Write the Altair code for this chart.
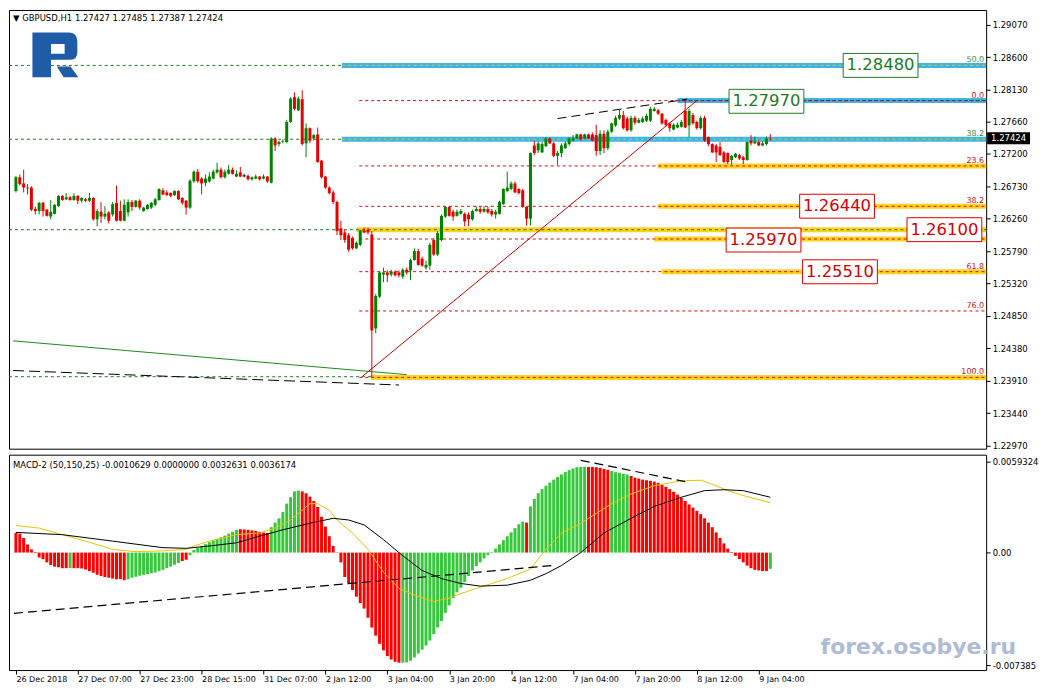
import altair as alt
import pandas as pd
import numpy as np

FONT = "DejaVu Sans"
W, H1, H2 = 980, 440, 216

# ---------------- price data (hourly bars, index 0..195) ----------------
opens = [
    1.2666, 1.2686, 1.2677, 1.2671, 1.2671, 1.2640, 1.2637, 1.2649, 1.2639, 1.2629,
    1.2633, 1.2644, 1.2659, 1.2654, 1.2657, 1.2653, 1.2659, 1.2652, 1.2654, 1.2652,
    1.2656, 1.2625, 1.2636, 1.2629, 1.2635, 1.2632, 1.2649, 1.2637, 1.2623, 1.2635,
    1.2650, 1.2643, 1.2652, 1.2637, 1.2640, 1.2642, 1.2646, 1.2653, 1.2667, 1.2664,
    1.2663, 1.2660, 1.2666, 1.2656, 1.2652, 1.2642, 1.2680, 1.2694, 1.2684, 1.2678,
    1.2680, 1.2684, 1.2693, 1.2697, 1.2686, 1.2691, 1.2697, 1.2687, 1.2693, 1.2688,
    1.2688, 1.2683, 1.2684, 1.2687, 1.2684, 1.2687, 1.2678, 1.2742, 1.2734, 1.2737,
    1.2737, 1.2766, 1.2802, 1.2783, 1.2799, 1.2735, 1.2757, 1.2742, 1.2748, 1.2710,
    1.2687, 1.2671, 1.2664, 1.2650, 1.2612, 1.2606, 1.2602, 1.2598, 1.2583, 1.2588,
    1.2609, 1.2610, 1.2603, 1.2467, 1.2513, 1.2545, 1.2548, 1.2545, 1.2549, 1.2548,
    1.2542, 1.2552, 1.2551, 1.2566, 1.2579, 1.2568, 1.2555, 1.2558, 1.2595, 1.2574,
    1.2595, 1.2629, 1.2643, 1.2636, 1.2630, 1.2633, 1.2633, 1.2632, 1.2625, 1.2637,
    1.2640, 1.2636, 1.2640, 1.2637, 1.2632, 1.2633, 1.2647, 1.2666, 1.2669, 1.2677,
    1.2669, 1.2667, 1.2643, 1.2626, 1.2732, 1.2725, 1.2722, 1.2731, 1.2742, 1.2735,
    1.2717, 1.2721, 1.2728, 1.2734, 1.2739, 1.2742, 1.2748, 1.2742, 1.2748, 1.2748,
    1.2747, 1.2724, 1.2749, 1.2728, 1.2752, 1.2761, 1.2771, 1.2776, 1.2771, 1.2754,
    1.2772, 1.2765, 1.2766, 1.2768, 1.2768, 1.2782, 1.2783, 1.2778, 1.2769, 1.2764,
    1.2755, 1.2758, 1.2759, 1.2782, 1.2761, 1.2776, 1.2766, 1.2757, 1.2772, 1.2744,
    1.2734, 1.2732, 1.2730, 1.2722, 1.2721, 1.2711, 1.2715, 1.2718, 1.2715, 1.2711,
    1.2739, 1.2735, 1.2737, 1.2732, 1.2734, 1.27427,
]
highs = [
    1.2688, 1.2690, 1.2697, 1.2676, 1.2673, 1.2643, 1.2650, 1.2650, 1.2640, 1.2653,
    1.2647, 1.2660, 1.2660, 1.2663, 1.2659, 1.2663, 1.2660, 1.2657, 1.2656, 1.2663,
    1.2657, 1.2640, 1.2650, 1.2644, 1.2637, 1.2650, 1.2674, 1.2652, 1.2654, 1.2654,
    1.2653, 1.2653, 1.2654, 1.2643, 1.2647, 1.2650, 1.2656, 1.2670, 1.2670, 1.2667,
    1.2664, 1.2667, 1.2667, 1.2657, 1.2653, 1.2683, 1.2696, 1.2698, 1.2686, 1.2690,
    1.2693, 1.2697, 1.2707, 1.2700, 1.2697, 1.2704, 1.2700, 1.2696, 1.2701, 1.2691,
    1.2690, 1.2687, 1.2690, 1.2688, 1.2690, 1.2688, 1.2744, 1.2744, 1.2739, 1.2741,
    1.2769, 1.2802, 1.2809, 1.2803, 1.2812, 1.2764, 1.2758, 1.2749, 1.2758, 1.2711,
    1.2688, 1.2673, 1.2667, 1.2652, 1.2623, 1.2610, 1.2605, 1.2600, 1.2593, 1.2610,
    1.2613, 1.2613, 1.2608, 1.2517, 1.2549, 1.2555, 1.2551, 1.2552, 1.2551, 1.2551,
    1.2554, 1.2555, 1.2568, 1.2583, 1.2582, 1.2571, 1.2565, 1.2591, 1.2598, 1.2608,
    1.2632, 1.2644, 1.2644, 1.2639, 1.2639, 1.2640, 1.2635, 1.2635, 1.2639, 1.2644,
    1.2643, 1.2644, 1.2643, 1.2640, 1.2639, 1.2652, 1.2670, 1.2694, 1.2680, 1.2680,
    1.2670, 1.2669, 1.2644, 1.2722, 1.2739, 1.2738, 1.2737, 1.2744, 1.2744, 1.2737,
    1.2724, 1.2735, 1.2738, 1.2744, 1.2747, 1.2749, 1.2749, 1.2749, 1.2749, 1.2751,
    1.2762, 1.2754, 1.2754, 1.2755, 1.2765, 1.2775, 1.2785, 1.2782, 1.2774, 1.2775,
    1.2775, 1.2772, 1.2774, 1.2778, 1.2788, 1.2788, 1.2785, 1.2779, 1.2771, 1.2765,
    1.2764, 1.2765, 1.2769, 1.2797, 1.2785, 1.2779, 1.2768, 1.2775, 1.2775, 1.2745,
    1.2735, 1.2734, 1.2737, 1.2724, 1.2722, 1.2718, 1.2721, 1.2720, 1.2717, 1.2738,
    1.2747, 1.2745, 1.2739, 1.2738, 1.2745, 1.27485,
]
lows = [
    1.2664, 1.2674, 1.2664, 1.2661, 1.2637, 1.2632, 1.2632, 1.2629, 1.2629, 1.2625,
    1.2632, 1.2643, 1.2652, 1.2653, 1.2652, 1.2652, 1.2647, 1.2649, 1.2650, 1.2650,
    1.2623, 1.2615, 1.2620, 1.2625, 1.2619, 1.2629, 1.2622, 1.2622, 1.2622, 1.2629,
    1.2637, 1.2642, 1.2639, 1.2636, 1.2639, 1.2640, 1.2644, 1.2652, 1.2660, 1.2659,
    1.2657, 1.2659, 1.2653, 1.2646, 1.2632, 1.2640, 1.2678, 1.2678, 1.2661, 1.2673,
    1.2678, 1.2683, 1.2691, 1.2684, 1.2684, 1.2690, 1.2690, 1.2686, 1.2686, 1.2686,
    1.2681, 1.2681, 1.2683, 1.2681, 1.2683, 1.2678, 1.2677, 1.2724, 1.2731, 1.2735,
    1.2735, 1.2765, 1.2783, 1.2782, 1.2732, 1.2715, 1.2735, 1.2739, 1.2707, 1.2684,
    1.2669, 1.2661, 1.2647, 1.2602, 1.2595, 1.2591, 1.2578, 1.2581, 1.2582, 1.2586,
    1.2605, 1.2603, 1.2396, 1.2460, 1.2511, 1.2534, 1.2534, 1.2542, 1.2542, 1.2541,
    1.2539, 1.2545, 1.2537, 1.2565, 1.2558, 1.2556, 1.2552, 1.2552, 1.2572, 1.2572,
    1.2593, 1.2627, 1.2629, 1.2623, 1.2629, 1.2632, 1.2615, 1.2615, 1.2623, 1.2636,
    1.2633, 1.2635, 1.2633, 1.2629, 1.2626, 1.2632, 1.2646, 1.2664, 1.2667, 1.2663,
    1.2661, 1.2642, 1.2616, 1.2616, 1.2718, 1.2721, 1.2721, 1.2730, 1.2734, 1.2715,
    1.2704, 1.2715, 1.2727, 1.2732, 1.2738, 1.2741, 1.2739, 1.2741, 1.2741, 1.2738,
    1.2717, 1.2718, 1.2721, 1.2725, 1.2750, 1.2759, 1.2769, 1.2755, 1.2752, 1.2752,
    1.2762, 1.2764, 1.2765, 1.2766, 1.2766, 1.2781, 1.2776, 1.2762, 1.2759, 1.2752,
    1.2754, 1.2757, 1.2758, 1.2757, 1.2744, 1.2762, 1.2755, 1.2755, 1.2737, 1.2731,
    1.2721, 1.2708, 1.2717, 1.2707, 1.2705, 1.2704, 1.2714, 1.2711, 1.2705, 1.2710,
    1.2732, 1.2734, 1.2731, 1.2731, 1.2732, 1.27387,
]
closes = [
    1.2686, 1.2676, 1.2671, 1.2670, 1.2639, 1.2637, 1.2649, 1.2637, 1.2630, 1.2636,
    1.2646, 1.2659, 1.2653, 1.2657, 1.2653, 1.2659, 1.2652, 1.2656, 1.2652, 1.2656,
    1.2625, 1.2637, 1.2629, 1.2633, 1.2623, 1.2647, 1.2623, 1.2623, 1.2646, 1.2650,
    1.2643, 1.2652, 1.2642, 1.2642, 1.2646, 1.2649, 1.2654, 1.2669, 1.2661, 1.2660,
    1.2659, 1.2666, 1.2654, 1.2649, 1.2642, 1.2681, 1.2694, 1.2680, 1.2677, 1.2684,
    1.2687, 1.2694, 1.2697, 1.2686, 1.2694, 1.2697, 1.2691, 1.2691, 1.2687, 1.2688,
    1.2683, 1.2686, 1.2687, 1.2683, 1.2687, 1.2680, 1.2742, 1.2732, 1.2737, 1.2738,
    1.2766, 1.2800, 1.2785, 1.2800, 1.2734, 1.2757, 1.2739, 1.2747, 1.2708, 1.2686,
    1.2671, 1.2663, 1.2650, 1.2608, 1.2602, 1.2595, 1.2581, 1.2583, 1.2591, 1.2609,
    1.2606, 1.2606, 1.2464, 1.2514, 1.2548, 1.2548, 1.2544, 1.2549, 1.2544, 1.2544,
    1.2552, 1.2548, 1.2566, 1.2579, 1.2559, 1.2558, 1.2559, 1.2588, 1.2574, 1.2605,
    1.2630, 1.2643, 1.2630, 1.2629, 1.2636, 1.2637, 1.2622, 1.2625, 1.2637, 1.2640,
    1.2636, 1.2640, 1.2635, 1.2632, 1.2636, 1.2650, 1.2669, 1.2671, 1.2677, 1.2664,
    1.2663, 1.2643, 1.2626, 1.2721, 1.2721, 1.2735, 1.2734, 1.2742, 1.2735, 1.2717,
    1.2721, 1.2732, 1.2735, 1.2742, 1.2742, 1.2748, 1.2741, 1.2748, 1.2742, 1.2739,
    1.2724, 1.2749, 1.2728, 1.2752, 1.2764, 1.2772, 1.2776, 1.2757, 1.2754, 1.2772,
    1.2765, 1.2769, 1.2771, 1.2775, 1.2785, 1.2785, 1.2778, 1.2764, 1.2762, 1.2757,
    1.2762, 1.2762, 1.2766, 1.2758, 1.2782, 1.2764, 1.2757, 1.2772, 1.2739, 1.2734,
    1.2722, 1.2722, 1.2718, 1.2708, 1.2708, 1.2717, 1.2720, 1.2713, 1.2711, 1.2737,
    1.2735, 1.2738, 1.2732, 1.2735, 1.2742, 1.27424,
]
assert len(opens) == len(highs) == len(lows) == len(closes) == 196, (len(opens), len(highs), len(lows), len(closes))

# ---------------- MACD-2 (50,150,25) ----------------
macd_hist = [
    0.00128, 0.00124, 0.00096, 0.00053, 0.00021, 0.00004, -0.00032, -0.00043, -0.00064, -0.00081,
    -0.00092, -0.00096, -0.00102, -0.00102, -0.00101, -0.00102, -0.00102, -0.00104, -0.00111, -0.00121,
    -0.00132, -0.00145, -0.00153, -0.00160, -0.00164, -0.00170, -0.00175, -0.00173, -0.00181, -0.00175,
    -0.00164, -0.00158, -0.00151, -0.00145, -0.00141, -0.00136, -0.00130, -0.00121, -0.00113, -0.00102,
    -0.00092, -0.00079, -0.00068, -0.00055, -0.00047, -0.00017, 0.00017, 0.00030, 0.00043, 0.00055,
    0.00068, 0.00081, 0.00089, 0.00100, 0.00111, 0.00124, 0.00136, 0.00149, 0.00153, 0.00151,
    0.00149, 0.00145, 0.00141, 0.00136, 0.00132, 0.00128, 0.00166, 0.00196, 0.00224, 0.00266,
    0.00320, 0.00362, 0.00400, 0.00405, 0.00400, 0.00388, 0.00366, 0.00337, 0.00298, 0.00234,
    0.00170, 0.00107, 0.00043, 0.00002, -0.00064, -0.00160, -0.00202, -0.00245, -0.00288, -0.00330,
    -0.00366, -0.00426, -0.00490, -0.00543, -0.00596, -0.00639, -0.00677, -0.00699, -0.00714, -0.00720,
    -0.00720, -0.00718, -0.00707, -0.00686, -0.00660, -0.00635, -0.00607, -0.00575, -0.00533, -0.00490,
    -0.00447, -0.00394, -0.00345, -0.00298, -0.00260, -0.00230, -0.00192, -0.00153, -0.00117, -0.00089,
    -0.00064, -0.00038, -0.00017, 0.00004, 0.00026, 0.00053, 0.00081, 0.00107, 0.00132, 0.00160,
    0.00185, 0.00202, 0.00196, 0.00302, 0.00351, 0.00388, 0.00415, 0.00437, 0.00458, 0.00477,
    0.00494, 0.00511, 0.00526, 0.00539, 0.00550, 0.00558, 0.00560, 0.00561, 0.00560, 0.00560,
    0.00558, 0.00554, 0.00547, 0.00541, 0.00533, 0.00526, 0.00522, 0.00515, 0.00511, 0.00501,
    0.00490, 0.00484, 0.00477, 0.00473, 0.00469, 0.00464, 0.00456, 0.00443, 0.00430, 0.00415,
    0.00398, 0.00379, 0.00358, 0.00337, 0.00315, 0.00294, 0.00273, 0.00251, 0.00224, 0.00196,
    0.00166, 0.00132, 0.00096, 0.00060, 0.00026, 0.00004, -0.00021, -0.00043, -0.00064, -0.00085,
    -0.00102, -0.00113, -0.00117, -0.00121, -0.00121, -0.00106,
]
assert len(macd_hist) == 196
# colour of each histogram bar, as runs (colour, number of bars)
hist_color_runs = [("R", 14), ("G", 1), ("R", 14), ("G", 14), ("R", 2), ("G", 13), ("R", 8),
                   ("G", 8), ("R", 26), ("G", 32), ("R", 1), ("G", 15), ("R", 6), ("G", 5),
                   ("R", 36), ("G", 1)]

signal_idx = [0, 6, 12, 18, 25, 31, 38, 44, 46, 50, 57, 63, 67, 71, 76, 78, 81, 83, 87, 91, 95, 99,
              103, 108, 112, 114, 119, 123, 127, 131, 133, 137, 141, 146, 150, 154, 159, 165, 172,
              177, 180, 184, 188, 195]
signal_val = [0.00177, 0.00160, 0.00117, 0.00075, 0.00021, 0.00006, 0.00011, 0.00021, 0.00043,
              0.00075, 0.00117, 0.00128, 0.00160, 0.00213, 0.00320, 0.00320, 0.00277, 0.00213,
              0.00128, 0.00021, -0.00128, -0.00234, -0.00277, -0.00320, -0.00298, -0.00277,
              -0.00234, -0.00202, -0.00170, -0.00128, -0.00107, 0.00021, 0.00128, 0.00192,
              0.00256, 0.00320, 0.00383, 0.00437, 0.00469, 0.00473, 0.00447, 0.00405, 0.00373,
              0.0032631]
ma_idx = [0, 12, 25, 38, 44, 50, 57, 63, 69, 76, 82, 86, 90, 95, 100, 105, 110, 115, 120, 127,
          133, 137, 141, 146, 152, 159, 165, 172, 178, 183, 188, 195]
ma_val = [0.00132, 0.00117, 0.00075, 0.00032, 0.00028, 0.00043, 0.00064, 0.00107, 0.00149,
          0.00192, 0.00224, 0.00213, 0.00181, 0.00085, -0.00021, -0.00117, -0.00170, -0.00202,
          -0.00219, -0.00213, -0.00181, -0.00138, -0.00085, 0.00000, 0.00128, 0.00224, 0.00302,
          0.00362, 0.00405, 0.00411, 0.00405, 0.0036174]

# ---------------- axes text ----------------
date_labels = ["26 Dec 2018", "27 Dec 07:00", "27 Dec 23:00", "28 Dec 15:00", "31 Dec 07:00",
               "2 Jan 12:00", "3 Jan 04:00", "3 Jan 20:00", "4 Jan 12:00", "7 Jan 04:00",
               "7 Jan 20:00", "8 Jan 12:00", "9 Jan 04:00"]
date_ticks = [0, 16, 32, 48, 64, 80, 96, 112, 128, 144, 160, 176, 192]
price_ticks = [1.29070, 1.28600, 1.28130, 1.27660, 1.27200, 1.26730, 1.26260, 1.25790,
               1.25320, 1.24850, 1.24380, 1.23910, 1.23440, 1.22970]
macd_ticks = [0.0059324, 0.0, -0.007385]

# ---------------- drawn objects ----------------
fib_high, fib_low = 1.27970, 1.23960
fib_levels = [0.0, 23.6, 38.2, 50.0, 61.8, 76.0, 100.0]
fib_start = 88.75
green_levels_under = [1.28480, 1.27410, 1.23970]
green_level_over = [1.26100]
blue_band_price = [1.28480, 1.27970, 1.27410]
blue_band_start = [84.25, 171.0, 84.25]
yellow_band_price = [1.27024, 1.26438, 1.26100, 1.25965, 1.25492, 1.23960]
yellow_band_start = [166.0, 166.0, 88.0, 165.0, 167.0, 91.75]
green_box_i = [223.5, 194.0]
green_box_p = [1.28480, 1.27960]
green_box_t = ["1.28480", "1.27970"]
red_box_i = [212.25, 240.0, 193.25, 213.0]
red_box_p = [1.26440, 1.26100, 1.25950, 1.25490]
red_box_t = ["1.26440", "1.26100", "1.25970", "1.25510"]
red_diag_i, red_diag_p = [89.25, 176.0], [1.23960, 1.27970]
top_dash_i, top_dash_p = [140.0, 173.5], [1.27710, 1.27990]
green_trend_i, green_trend_p = [-0.75, 101.0], [1.24490, 1.24000]
low_dash_i, low_dash_p = [-0.75, 99.0], [1.24060, 1.23850]
macd_low_dash_i, macd_low_dash_v = [-0.5, 139.5], [-0.00397, -0.00083]
macd_top_dash_i, macd_top_dash_v = [146.0, 173.0], [0.00603, 0.00464]
last_price = 1.27424

# ---------------- scales / axes / helpers ----------------
XS = alt.Scale(domain=[-0.5, 249.5], nice=False, zero=False)
YS = alt.Scale(domain=[1.22927, 1.29283], nice=False, zero=False)
MS = alt.Scale(domain=[-0.00768, 0.0064], nice=False, zero=False)

y_axis = alt.Axis(orient="right", values=price_ticks, format=".5f", labelFont=FONT,
                  labelFontSize=8.5, labelColor="black", tickColor="black", tickSize=4,
                  domain=False, grid=False, title=None, labelPadding=2, labelFlush=False)
x_axis = alt.Axis(values=date_ticks,
                  labelExpr="[" + ",".join(f"'{s}'" for s in date_labels) + "][round(datum.value/16)]",
                  orient="bottom", tickSize=4, tickColor="black", labelAlign="left",
                  labelPadding=1, labelFont=FONT, labelFontSize=8, labelColor="black",
                  domain=False, grid=False, title=None, labelFlush=False, labelOverlap=False)
m_axis = alt.Axis(orient="right", values=macd_ticks,
                  labelExpr="datum.value > 0.001 ? '0.0059324' : (datum.value < -0.001 ? '-0.007385' : '0.00')",
                  labelFont=FONT, labelFontSize=8.5, labelColor="black", tickColor="black",
                  tickSize=4, domain=False, grid=False, title=None, labelPadding=2, labelFlush=False)


def X(f):
    return alt.X(f, type="quantitative", scale=XS, axis=None)


def XM(f):
    return alt.X(f, type="quantitative", scale=XS, axis=x_axis)


def Y(f):
    return alt.Y(f, type="quantitative", scale=YS, axis=y_axis)


def M(f):
    return alt.Y(f, type="quantitative", scale=MS, axis=m_axis)


one = pd.DataFrame({"a": [0]})

cdf = pd.DataFrame({"i": np.arange(196), "o": opens, "h": highs, "l": lows, "c": closes})
cdf["col"] = np.where(cdf.c > cdf.o, "#008400", np.where(cdf.c < cdf.o, "#E80000", "#000000"))
ccol = alt.Color("col:N", scale=None)

wicks = alt.Chart(cdf).mark_rule(strokeWidth=1).encode(x=X("i"), y=Y("l"), y2="h:Q", color=ccol)
bodies = alt.Chart(cdf).mark_bar(width=3).encode(x=X("i"), y=Y("o"), y2="c:Q", color=ccol)
dojis = alt.Chart(cdf[cdf.o == cdf.c]).mark_tick(color="black", thickness=1, size=4,
                                                  orient="horizontal").encode(x=X("i"), y=Y("o"))

gunder = alt.Chart(pd.DataFrame({"p": green_levels_under})).mark_rule(
    color="#1F7A1F", strokeDash=[3, 3], strokeWidth=1).encode(
    x=alt.value(0), x2=alt.value(W), y=Y("p"))
gover = alt.Chart(pd.DataFrame({"p": green_level_over})).mark_rule(
    color="#1F7A1F", strokeDash=[3, 3], strokeWidth=1).encode(
    x=alt.value(0), x2=alt.value(W), y=Y("p"))

bbands = alt.Chart(pd.DataFrame({"p": blue_band_price, "s": blue_band_start})).mark_rule(
    color="#3DB6E6", strokeWidth=5).encode(x=X("s"), x2=alt.value(W), y=Y("p"))
ybands = alt.Chart(pd.DataFrame({"p": yellow_band_price, "s": yellow_band_start})).mark_rule(
    color="#FFD21F", strokeWidth=5).encode(x=X("s"), x2=alt.value(W), y=Y("p"))
bcenter = alt.Chart(pd.DataFrame({"p": [blue_band_price[0], blue_band_price[2]],
                                  "s": [blue_band_start[0], blue_band_start[2]]})).mark_rule(
    color="#C8C44E", strokeDash=[3, 3], strokeWidth=1).encode(x=X("s"), x2=alt.value(W), y=Y("p"))
bcenter2 = alt.Chart(pd.DataFrame({"p": [blue_band_price[1]], "s": [blue_band_start[1]]})).mark_rule(
    color="#1B2F55", strokeDash=[3, 3], strokeWidth=1).encode(x=X("s"), x2=alt.value(W), y=Y("p"))

fdf = pd.DataFrame({"lvl": fib_levels})
fdf["p"] = fib_high - fdf.lvl / 100.0 * (fib_high - fib_low)
fdf["s"] = fib_start
fdf["t"] = fdf.lvl.map(lambda v: f"{v:.1f}")
fiblines = alt.Chart(fdf).mark_rule(color="#D01010", strokeDash=[3, 3], strokeWidth=1).encode(
    x=X("s"), x2=alt.value(W), y=Y("p"))
fibtext = alt.Chart(fdf[fdf.lvl != 50.0]).mark_text(
    font=FONT, fontSize=8, color="#D01010", align="right", baseline="bottom", dy=-1).encode(
    x=alt.value(W - 2), y=Y("p"), text="t:N")
gtext = alt.Chart(pd.DataFrame({"p": [1.28480, 1.27410], "t": ["50.0", "38.2"]})).mark_text(
    font=FONT, fontSize=8, color="#3C8C3C", align="right", baseline="bottom", dy=-1).encode(
    x=alt.value(W - 2), y=Y("p"), text="t:N")


def seg(i, p, **kw):
    return alt.Chart(pd.DataFrame({"i": i, "p": p})).mark_line(**kw).encode(x=X("i"), y=Y("p"))


red_diag = seg(red_diag_i, red_diag_p, color="#D00000", strokeWidth=1)
top_dash = seg(top_dash_i, top_dash_p, color="black", strokeWidth=1, strokeDash=[9, 5])
green_trend = seg(green_trend_i, green_trend_p, color="#1F8A1F", strokeWidth=1)
low_dash = seg(low_dash_i, low_dash_p, color="black", strokeWidth=1, strokeDash=[11, 5])

BOX = "M-1,-0.32L1,-0.32L1,0.32L-1,0.32Z"


def boxes(i, p, t, col):
    d = pd.DataFrame({"i": i, "p": p, "t": t})
    b = alt.Chart(d).mark_point(shape=BOX, size=75 * 75, fill="white", fillOpacity=1,
                                stroke=col, strokeWidth=1, opacity=1).encode(x=X("i"), y=Y("p"))
    tx = alt.Chart(d).mark_text(font=FONT, fontSize=16.5, color=col, align="center",
                                baseline="middle").encode(x=X("i"), y=Y("p"), text="t:N")
    return b + tx


gboxes = boxes(green_box_i, green_box_p, green_box_t, "#1E7B1E")
rboxes = boxes(red_box_i, red_box_p, red_box_t, "#D80000")

header = alt.Chart(one).mark_text(
    text="▼ GBPUSD,H1  1.27427 1.27485 1.27387 1.27424", font=FONT, fontSize=8.5,
    color="black", align="left", baseline="middle").encode(x=alt.value(4), y=alt.value(8))

LOGO = ("M-0.979,-0.958L0.5625,-0.958Q0.9375,-0.958 0.9375,-0.583L0.9375,-0.125"
        "Q0.9375,0.208 0.646,0.208L-0.1875,0.208L-0.1875,0.958L-0.979,0.958Z"
        "M-0.1875,-0.458L-0.1875,-0.042L0.396,-0.042L0.396,-0.458Z"
        "M0.0625,0.5L0.646,0.5L0.979,0.958L0.354,0.958Z")
logo = alt.Chart(one).mark_point(shape=LOGO, size=47 * 47, filled=True, color="#1E5CA8",
                                 opacity=1, strokeWidth=0).encode(x=alt.value(46.5), y=alt.value(45))

PBOX = "M-1,-0.28L1,-0.28L1,0.28L-1,0.28Z"
pdf = pd.DataFrame({"p": [last_price], "t": [f"{last_price:.5f}"]})
pricebox = alt.Chart(pdf).mark_point(shape=PBOX, size=43 * 43, filled=True, color="black",
                                     opacity=1, strokeWidth=0).encode(x=alt.value(W + 22.5), y=Y("p"))
pricetext = alt.Chart(pdf).mark_text(font=FONT, fontSize=8.5, color="white", align="center",
                                     baseline="middle").encode(x=alt.value(W + 22.5), y=Y("p"), text="t:N")

main = alt.layer(
    gunder, bbands, ybands, bcenter, bcenter2, gover, fiblines, green_trend, low_dash,
    red_diag, top_dash, wicks, bodies, dojis, gboxes, rboxes, fibtext, gtext,
    header, logo, pricebox, pricetext,
).properties(width=W, height=H1)

# ---------------- MACD panel ----------------
cols = []
for c, n in hist_color_runs:
    cols += [c] * n
assert len(cols) == 196
hdf = pd.DataFrame({"i": np.arange(196), "v": macd_hist, "z": 0.0, "c": cols})
hdf["col"] = hdf.c.map({"G": "#35C83A", "R": "#FF0000"})

hist = alt.Chart(hdf).mark_bar(width=3).encode(
    x=XM("i"), y=M("v"), y2="z:Q", color=alt.Color("col:N", scale=None))


def mline(i, v, **kw):
    return alt.Chart(pd.DataFrame({"i": i, "v": v})).mark_line(**kw).encode(x=XM("i"), y=M("v"))


sig = mline(signal_idx, signal_val, color="#E8C400", strokeWidth=1)
ma = mline(ma_idx, ma_val, color="black", strokeWidth=1)
mlow = mline(macd_low_dash_i, macd_low_dash_v, color="black", strokeWidth=1.2, strokeDash=[9, 5])
mtop = mline(macd_top_dash_i, macd_top_dash_v, color="black", strokeWidth=1.2, strokeDash=[9, 5])

mheader = alt.Chart(one).mark_text(
    text="MACD-2 (50,150,25) -0.0010629 0.0000000 0.0032631 0.0036174", font=FONT,
    fontSize=8.5, color="black", align="left", baseline="middle").encode(
    x=alt.value(4), y=alt.value(10))
watermark = alt.Chart(one).mark_text(
    text="forex.osobye.ru", font=FONT, fontSize=22, fontWeight="bold", color="#A6B5D3",
    align="center", baseline="middle", opacity=0.9).encode(x=alt.value(912), y=alt.value(193))

macd = alt.layer(hist, sig, ma, mlow, mtop, mheader, watermark).properties(width=W, height=H2)

chart = alt.vconcat(main, macd, spacing=2).properties(
    background="white", padding=0
).configure_view(stroke="black", strokeWidth=1)

chart.save("out.html", embed_options={"renderer": "svg", "actions": False})
